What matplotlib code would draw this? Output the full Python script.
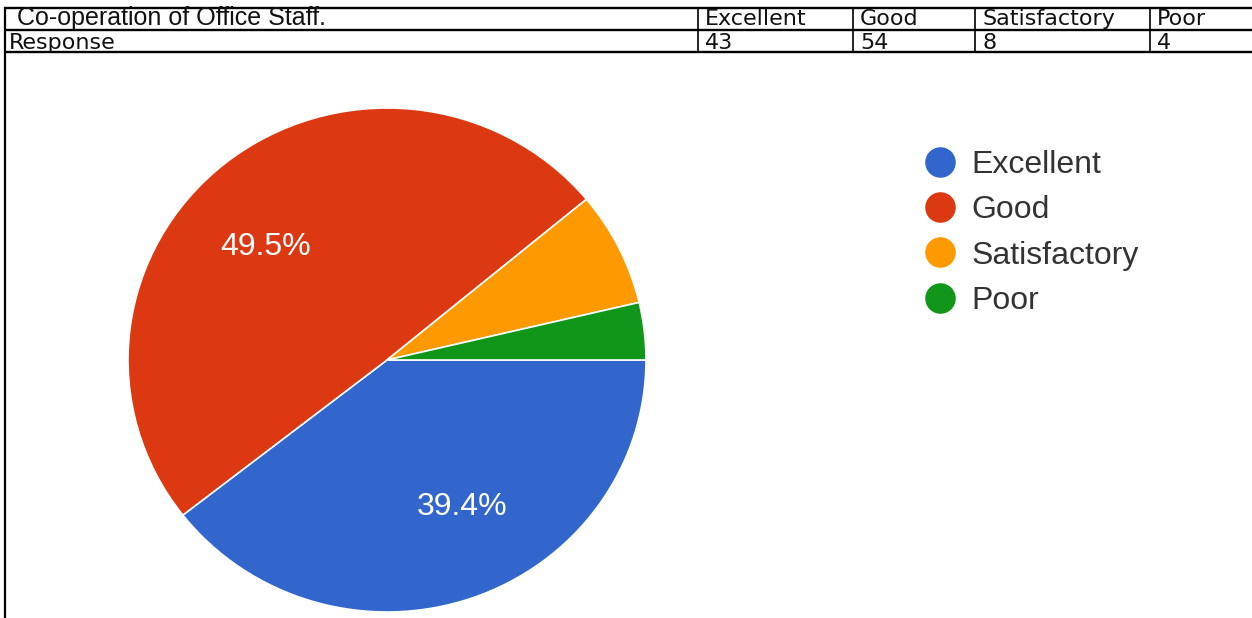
import numpy as np
import matplotlib
matplotlib.use("Agg")
import matplotlib.pyplot as plt
from matplotlib.lines import Line2D

# Data
title = "Co-operation of Office Staff."
row_label = "Response"
categories = ["Excellent", "Good", "Satisfactory", "Poor"]
responses = [43, 54, 8, 4]
colors = ["#3366CC", "#DC3912", "#FF9900", "#109618"]

W, H = 1252, 618
fig = plt.figure(figsize=(W / 100, H / 100), dpi=100)

# Background axes in pixel coordinates for the table
bg = fig.add_axes([0, 0, 1, 1])
bg.set_xlim(0, W)
bg.set_ylim(H, 0)
bg.axis("off")

top, mid, bot = 8, 30, 52
col_x = [698, 853, 975, 1150]
left = 5

for y in (top, mid, bot):
    bg.plot([left, W], [y, y], color="black", lw=1.7, solid_capstyle="butt")
bg.plot([left, left], [top, H], color="black", lw=1.6)
for x in col_x:
    bg.plot([x, x], [top, bot], color="black", lw=1.2)

cell_font = dict(fontsize=16, family="DejaVu Sans", va="center", ha="left",
                 color="#111111")
bg.text(17, top + 10, title, fontsize=18, family="Liberation Sans",
        va="center", ha="left", color="#111111")
bg.text(9, mid + 13, row_label, **cell_font)
for x, cat, val in zip(col_x, categories, responses):
    bg.text(x + 7, top + 11, cat, **cell_font)
    bg.text(x + 7, mid + 13, str(val), **cell_font)

# Pie chart
cx, cy, rx, ry = 387, 360, 259, 252
ax = fig.add_axes([(cx - rx) / W, (H - cy - ry) / H, 2 * rx / W, 2 * ry / H])
wedges, texts, autotexts = ax.pie(
    responses, colors=colors, startangle=0, counterclock=False,
    wedgeprops=dict(edgecolor="white", linewidth=1.2),
    autopct=lambda p: f"{p:.1f}%" if p > 20 else "", pctdistance=0.65,
    textprops=dict(color="white", fontsize=23, family="Liberation Sans"))
# labels sit a little counter-clockwise of the wedge middle, as in Google charts
for w, t in zip(wedges, autotexts):
    ang = np.deg2rad((w.theta1 + w.theta2) / 2 + 7.5)
    t.set_position((0.65 * np.cos(ang), 0.65 * np.sin(ang)))
ax.set_aspect("auto")
ax.set_xlim(-1.0, 1.0)
ax.set_ylim(-1.0, 1.0)

# Legend
handles = [Line2D([], [], marker="o", linestyle="", markersize=21,
                  markerfacecolor=c, markeredgecolor=c) for c in colors]
fig.legend(handles, categories, loc="upper left",
           bbox_to_anchor=(906 / W, 1 - 134 / H), frameon=False,
           prop=dict(family="Liberation Sans", size=23),
           labelcolor="#333333", handletextpad=0.45, labelspacing=0.48,
           borderpad=0, handlelength=1.1)

fig.savefig("out.png", dpi=100)
